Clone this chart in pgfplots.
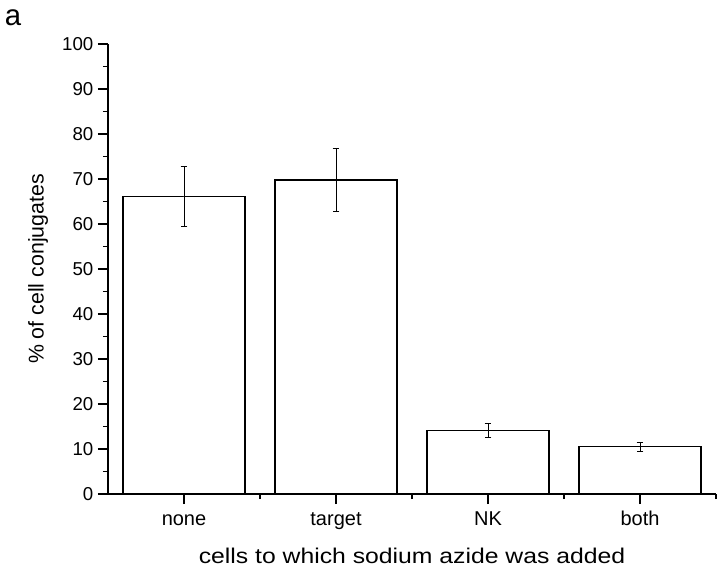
\documentclass[border=0pt]{standalone}
\usepackage{fontspec}
\setmainfont{Liberation Sans}
\usepackage{pgfplots}
\pgfplotsset{compat=1.18}

\begin{document}
\begin{tikzpicture}
\begin{axis}[
    at={(0,0)}, anchor=south west,
    scale only axis,
    width=456pt, height=337.5pt,
    xmin=-0.5, xmax=3.5,
    ymin=0, ymax=100,
    axis x line*=bottom,
    axis y line*=left,
    axis line style={line width=1.1pt},
    ybar, bar width=0.8,
    xtick={0,1,2,3},
    xticklabels={none,target,NK,both},
    minor xtick={0.5,1.5,2.5,3.5},
    ytick={0,10,...,100},
    minor ytick={5,15,...,95},
    tick align=outside,
    major tick length=7.5pt,
    minor tick length=3.75pt,
    tick style={black, line width=1pt},
    /pgf/number format/assume math mode=true,
    xticklabel style={font=\fontsize{15}{17}\selectfont, anchor=base, yshift=-16pt},
    yticklabel style={font=\fontsize{14}{16}\selectfont},
    xlabel={cells to which sodium azide was added},
    ylabel={\% of cell conjugates},
    xlabel style={font=\fontsize{16}{18}\selectfont, xscale=1.16,
        at={(axis description cs:0.5,0)}, anchor=base, yshift=-51.75pt},
    ylabel style={font=\fontsize{16}{18}\selectfont,
        at={(axis description cs:-0.1151,0.5)}, anchor=center},
    clip=false,
]
\addplot[draw=black, fill=white, line width=1.1pt,
    error bars/.cd, y dir=both, y explicit,
    error bar style={line width=0.7pt}, error mark options={rotate=90, mark size=2.6pt, line width=0.7pt}]
    coordinates {
    (0,66.1) +- (0,6.6)
    (1,69.8) +- (0,7)
    (2,14.1) +- (0,1.5)
    (3,10.5) +- (0,1.05)
    };
\end{axis}
\node[anchor=base west, inner sep=0pt, font=\fontsize{22}{24}\selectfont] at (-77.5pt,351.75pt) {a};
\path (-81pt,-56.25pt) rectangle (459pt,370.5pt);
\end{tikzpicture}
\end{document}
